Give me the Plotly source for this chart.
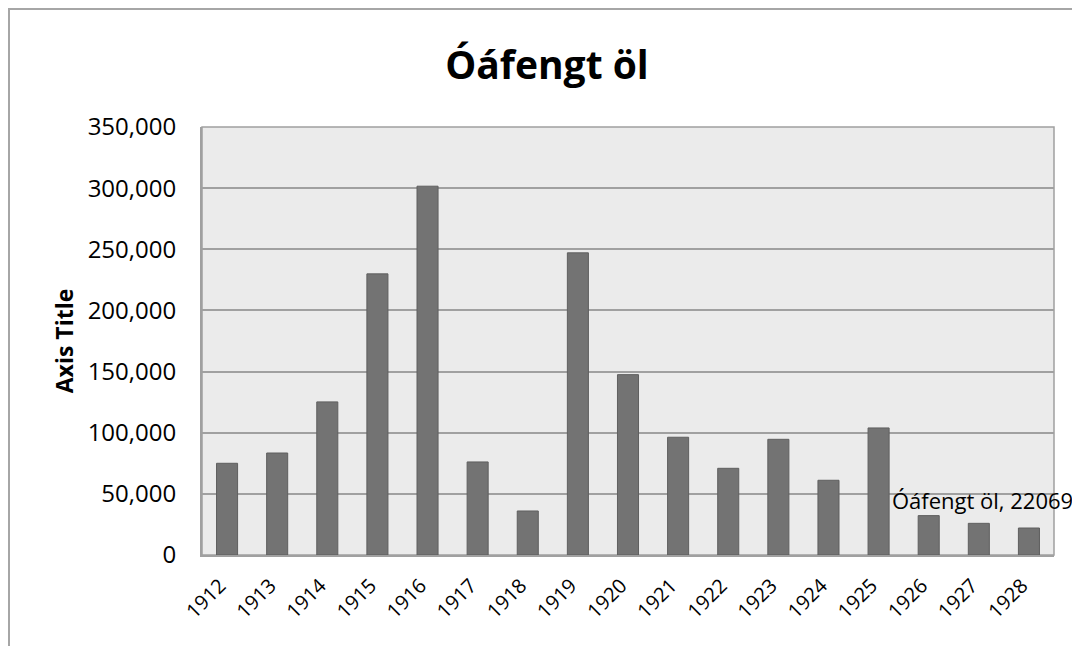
import plotly.graph_objects as go

series_name = "Óáfengt öl"
years = ["1912", "1913", "1914", "1915", "1916", "1917", "1918", "1919", "1920",
         "1921", "1922", "1923", "1924", "1925", "1926", "1927", "1928"]
values = [75000, 83400, 125200, 229900, 301600, 76100, 36000, 247100, 147500,
          96300, 70900, 94600, 61100, 103900, 32200, 25900, 22069]
y_ticks = [0, 50000, 100000, 150000, 200000, 250000, 300000, 350000]

FONT = "Open Sans"
OFF = 8  # page body margin

W, H = 1080, 646
L, R, T, B = 202 - OFF, W - (1054 - OFF), 127 - OFF, H - (555 - OFF)
PW, PH = W - L - R, H - T - B

fig = go.Figure()
fig.add_trace(go.Bar(
    x=years, y=values, name=series_name,
    marker=dict(color="#737373", line=dict(color="#5f5f5f", width=1)),
    width=0.42,
))

fig.add_annotation(
    x=len(years) - 1, y=45000, xref="x", yref="y",
    text=f"{series_name}, {values[-1]}",
    showarrow=False, xanchor="right", yanchor="middle", xshift=46,
    font=dict(family=FONT, size=22, color="#000000"),
)

# outer chart border
fig.add_shape(type="rect", xref="paper", yref="paper",
              x0=(9 - OFF - L) / PW, x1=(W + 20 - L) / PW,
              y0=(H - B - (H + 20)) / PH, y1=(H - B - 1) / PH,
              line=dict(color="#a6a6a6", width=2), fillcolor="rgba(0,0,0,0)", layer="below")

fig.update_layout(
    width=W, height=H,
    margin=dict(l=L, r=R, t=T, b=B),
    paper_bgcolor="#ffffff", plot_bgcolor="#ebebeb",
    showlegend=False,
    title=dict(text=f"<b>{series_name}</b>", x=(547 - OFF) / W, xanchor="center",
               xref="container", y=1 - (65 - OFF) / H, yanchor="middle",
               font=dict(family=FONT, size=39, color="#000000")),
    font=dict(family=FONT, color="#000000"),
    bargap=0.58,
)
fig.update_xaxes(
    type="category", range=[-0.5, len(years) - 0.5], autorange=False,
    tickangle=-45, tickfont=dict(family=FONT, size=20, color="#000000"),
    showline=True, linecolor="#a0a0a0", linewidth=2, mirror=False, showgrid=False,
    ticks="", ticklabelstandoff=9, ticklabelshift=-7,
)
fig.update_yaxes(
    range=[0, 350000], tickvals=y_ticks, ticktext=[f"{v:,}" for v in y_ticks],
    tickfont=dict(family=FONT, size=24, color="#000000"),
    showgrid=True, gridcolor="#a0a0a0", gridwidth=1.5,
    showline=True, linecolor="#a0a0a0", linewidth=2, zeroline=False,
    ticks="", ticklabelstandoff=19,
    title=dict(text="<b>Axis Title</b>", font=dict(family=FONT, size=23, color="#000000"), standoff=8),
)
# top/right border of plot area
fig.add_shape(type="rect", xref="paper", yref="paper", x0=0, x1=1, y0=0, y1=1,
              line=dict(color="#a0a0a0", width=1.5), fillcolor="rgba(0,0,0,0)", layer="below")

fig.write_html("out.html")
